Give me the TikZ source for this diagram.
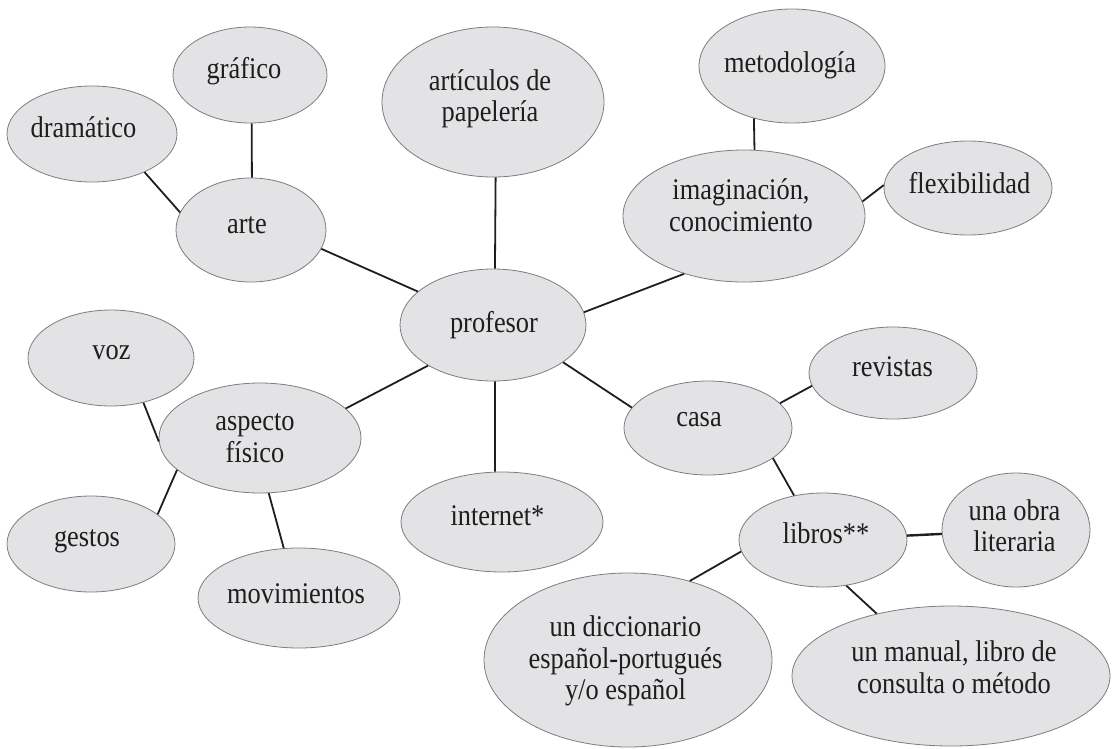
\documentclass[tikz,border=0pt]{standalone}
\usepackage{fontspec}
\setmainfont{Liberation Serif}[FakeStretch=0.88]
\usetikzlibrary{shapes.geometric}
\definecolor{bubfill}{RGB}{227,227,229}
\definecolor{bubline}{RGB}{125,125,125}
\definecolor{ink}{RGB}{30,30,30}
\tikzset{
  bub/.style={ellipse, draw=bubline, fill=bubfill, line width=0.8pt, inner sep=0pt},
  txt/.style={font=\fontsize{30}{31.5}\selectfont, align=center, inner sep=0pt, text=ink},
  txtb/.style={txt, anchor=base},
  link/.style={draw=ink, line width=1.8pt}
}
\begin{document}
\begin{tikzpicture}[x=1pt,y=-1pt]
\useasboundingbox (0,0) rectangle (1114,748);
% bubbles
\node[bub, minimum width=170pt, minimum height=96pt] (dram) at (92,134) {};
\node[bub, minimum width=154pt, minimum height=96pt] (graf) at (250,75) {};
\node[bub, minimum width=150pt, minimum height=104pt] (arte) at (251,230) {};
\node[bub, minimum width=222pt, minimum height=150pt] (arti) at (493,102) {};
\node[bub, minimum width=186pt, minimum height=114pt] (meto) at (792,66) {};
\node[bub, minimum width=242pt, minimum height=132pt] (imag) at (744,216) {};
\node[bub, minimum width=168pt, minimum height=94pt] (flex) at (968,188) {};
\node[bub, minimum width=186pt, minimum height=112pt] (prof) at (493,325) {};
\node[bub, minimum width=166pt, minimum height=96pt] (voz) at (111,358) {};
\node[bub, minimum width=202pt, minimum height=110pt] (asp) at (260,438) {};
\node[bub, minimum width=168pt, minimum height=96pt] (gest) at (91,544) {};
\node[bub, minimum width=202pt, minimum height=100pt] (movi) at (299,598) {};
\node[bub, minimum width=202pt, minimum height=100pt] (inter) at (502,522) {};
\node[bub, minimum width=168pt, minimum height=94pt] (casa) at (708,428) {};
\node[bub, minimum width=168pt, minimum height=92pt] (revi) at (893,373) {};
\node[bub, minimum width=168pt, minimum height=94pt] (libr) at (823,540) {};
\node[bub, minimum width=148pt, minimum height=114pt] (obra) at (1016,530) {};
\node[bub, minimum width=288pt, minimum height=174pt] (dicc) at (628,660) {};
\node[bub, minimum width=318pt, minimum height=140pt] (manu) at (951,676) {};
% texts
\node[txtb] (dram-t) at (83.5,137) {dramático};
\node[txtb] (graf-t) at (244,78) {gráfico};
\node[txtb] (arte-t) at (247,233) {arte};
\node[txt] (arti-t) at (490,99) {artículos de\\papelería};
\node[txtb] (meto-t) at (790,72) {metodología};
\node[txt] (imag-t) at (741,205) {imaginación,\\conocimiento};
\node[txtb] (flex-t) at (969.5,193) {flexibilidad};
\node[txtb] (prof-t) at (494,332.5) {profesor};
\node[txtb] (voz-t) at (111.5,359) {voz};
\node[txt] (asp-t) at (255,438) {aspecto\\físico};
\node[txtb] (gest-t) at (87,546.7) {gestos};
\node[txtb] (movi-t) at (296,603) {movimientos};
\node[txtb] (inter-t) at (497.5,525.7) {internet*};
\node[txtb] (casa-t) at (699,426.7) {casa};
\node[txtb] (revi-t) at (892.5,376) {revistas};
\node[txtb] (libr-t) at (826,543) {libros**};
\node[txt] (obra-t) at (1014.5,525.5) {una obra\\literaria};
\node[txt] (dicc-t) at (625.5,661) {un diccionario\\español-portugués\\y/o español};
\node[txt] (manu-t) at (954,667) {un manual, libro de\\consulta o método};
% connectors
\draw[link] (graf.-88) -- (arte.89);
\draw[link] (dram.-36.7) -- (arte.166.5);
\draw[link] (arte.-15.2) -- (prof.156.5);
\draw[link] (arti.-88.5) -- (prof.88);
\draw[link] (imag.-136) -- (prof.8.7);
\draw[link] (meto.-126.2) -- (imag.81.4);
\draw[link] (imag.7.6) -- (flex.178);
\draw[link] (prof.-88.8) -- (inter.98);
\draw[link] (prof.-28.5) -- (casa.165);
\draw[link] (prof.-148) -- (asp.19.2);
\draw[link] (voz.-54.6) -- (asp.182);
\draw[link] (gest.24.8) -- (asp.201.4);
\draw[link] (asp.-81) -- (movi.107);
\draw[link] (casa.19.9) -- (revi.189.7);
\draw[link] (casa.-25.2) -- (libr.123.4);
\draw[link, line width=2.4pt] (libr.3.4) -- (obra.183.9);
\draw[link] (libr.188.2) -- (dicc.52.9);
\draw[link] (libr.-63) -- (manu.140.8);
\end{tikzpicture}
\end{document}
